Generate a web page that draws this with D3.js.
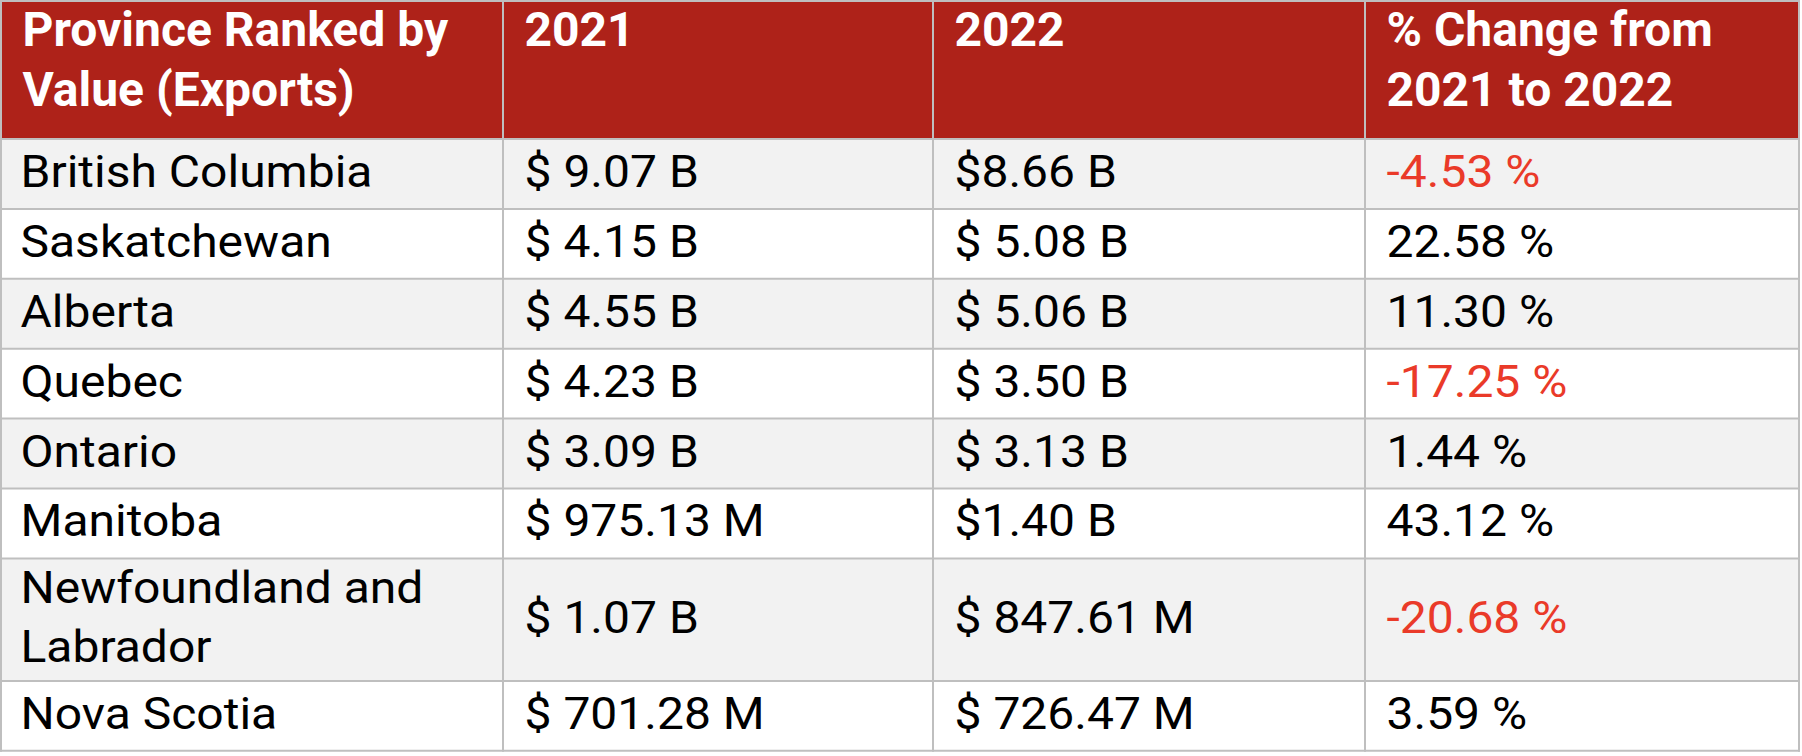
<!DOCTYPE html>
<html>
<head>
<meta charset="utf-8">
<script src="https://cdn.jsdelivr.net/npm/d3@7"></script>
<style>
  html, body { margin: 0; padding: 0; background: #ffffff; }
  svg { display: block; }
  text { font-family: Roboto, "Noto Sans", sans-serif; }
</style>
</head>
<body>
<svg id="chart" width="1802" height="756"></svg>
<script>
// ---------- data ----------
const headers = [["Province Ranked by", "Value (Exports)"], ["2021"], ["2022"], ["% Change from", "2021 to 2022"]];
const provinces = ["British Columbia", "Saskatchewan", "Alberta", "Quebec", "Ontario", "Manitoba", "Newfoundland and Labrador", "Nova Scotia"];
const exports2021 = ["$ 9.07 B", "$ 4.15 B", "$ 4.55 B", "$ 4.23 B", "$ 3.09 B", "$ 975.13 M", "$ 1.07 B", "$ 701.28 M"];
const exports2022 = ["$8.66 B", "$ 5.08 B", "$ 5.06 B", "$ 3.50 B", "$ 3.13 B", "$1.40 B", "$ 847.61 M", "$ 726.47 M"];
const pctChange = [-4.53, 22.58, 11.30, -17.25, 1.44, 43.12, -20.68, 3.59];

// ---------- layout ----------
const colEdges = [1, 503, 933, 1365, 1799];
const headerH = 138;
const tableTop = 1;
const rowBaseH = 69.9;
const extraLineH = 52.6;
const lineH = 58.4;
const headerLineH = 60.5;
const fontSize = 44.5;
const bodyStretch = 1.079;
const headerFontSize = 48;
const padX = 21.5;
const colors = {
  header: "#ae2219",
  stripe: "#f2f2f2",
  plain: "#ffffff",
  border: "#bfbfbf",
  text: "#000000",
  neg: "#ea3a29",
  headText: "#ffffff"
};

const svg = d3.select("#chart");
const fmtPct = d => d3.format(".2f")(d).replace("\u2212", "-") + " %";

const colX = d3.scaleOrdinal().domain([0, 1, 2, 3]).range(colEdges.slice(0, 4));
const colW = i => colEdges[i + 1] - colEdges[i];

// rows of cells
const rows = provinces.map((p, i) => ({
  cells: [
    { text: p, color: colors.text },
    { text: exports2021[i], color: colors.text },
    { text: exports2022[i], color: colors.text },
    { text: fmtPct(pctChange[i]), color: pctChange[i] < 0 ? colors.neg : colors.text }
  ],
  stripe: i % 2 === 0
}));

// word-wrap helper using a hidden measuring text
const measure = svg.append("text").attr("font-size", fontSize).attr("visibility", "hidden");
function wrap(str, maxW) {
  const words = str.split(" ");
  const lines = [];
  let cur = "";
  words.forEach(w => {
    const test = cur ? cur + " " + w : w;
    measure.text(test);
    if (measure.node().getComputedTextLength() * bodyStretch > maxW && cur) {
      lines.push(cur);
      cur = w;
    } else cur = test;
  });
  if (cur) lines.push(cur);
  return lines;
}
rows.forEach(r => {
  r.cells.forEach((c, j) => { c.lines = wrap(c.text, colW(j) - 2 * padX); });
  r.nLines = d3.max(r.cells, c => c.lines.length);
  r.h = rowBaseH + (r.nLines - 1) * extraLineH;
});
measure.remove();

// cumulative row positions
let y = tableTop + headerH;
rows.forEach(r => { r.y = y; y += r.h; });
const tableBottom = y;

// ---------- header ----------
svg.append("rect")
  .attr("x", colEdges[0]).attr("y", tableTop)
  .attr("width", colEdges[4] - colEdges[0]).attr("height", headerH)
  .attr("fill", colors.header);

const hg = svg.append("g");
headers.forEach((lines, j) => {
  const t = hg.append("text")
    .attr("font-size", headerFontSize)
    .attr("font-weight", 700)
    .attr("fill", colors.headText);
  lines.forEach((ln, k) => {
    t.append("tspan")
      .attr("x", colX(j) + padX)
      .attr("y", tableTop + 44.5 + k * headerLineH)
      .text(ln);
  });
});

// ---------- body ----------
const rg = svg.append("g").selectAll("g.row").data(rows).join("g").attr("class", "row");
rg.append("rect")
  .attr("x", colEdges[0]).attr("y", d => d.y)
  .attr("width", colEdges[4] - colEdges[0]).attr("height", d => d.h)
  .attr("fill", d => d.stripe ? colors.stripe : colors.plain);

rg.each(function(r) {
  const g = d3.select(this);
  const center = r.y + r.h / 2;
  r.cells.forEach((c, j) => {
    const n = c.lines.length;
    const x0 = colX(j) + (j === 0 ? padX - 2 : padX);
    const t = g.append("text")
      .attr("font-size", fontSize)
      .attr("fill", c.color)
      .attr("transform", `translate(${x0},0) scale(${bodyStretch},1)`);
    c.lines.forEach((ln, k) => {
      t.append("tspan")
        .attr("x", 0)
        .attr("y", center + 13 - (n - 1) * lineH / 2 + k * lineH)
        .text(ln);
    });
  });
});

// ---------- grid lines ----------
const grid = svg.append("g").attr("stroke", colors.border).attr("stroke-width", 2);
const hLines = [tableTop, tableTop + headerH].concat(rows.map(r => r.y + r.h));
grid.selectAll("line.h").data(hLines).join("line").attr("class", "h")
  .attr("x1", colEdges[0] - 1).attr("x2", colEdges[4] + 1)
  .attr("y1", d => d).attr("y2", d => d);
grid.selectAll("line.v").data(colEdges).join("line").attr("class", "v")
  .attr("x1", d => d).attr("x2", d => d)
  .attr("y1", tableTop - 1).attr("y2", tableBottom + 1);
</script>
</body>
</html>
